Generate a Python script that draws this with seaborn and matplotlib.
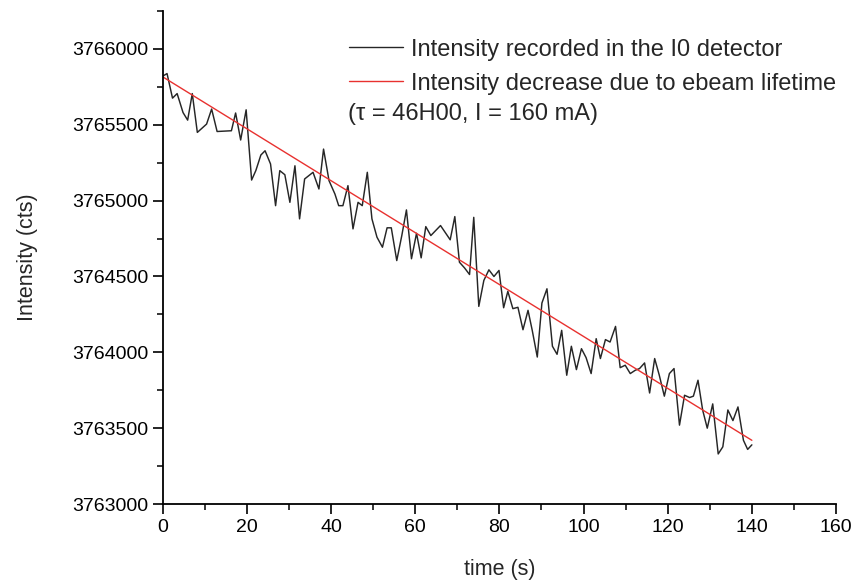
import numpy as np
import pandas as pd
import matplotlib
matplotlib.use("Agg")
import matplotlib.pyplot as plt
from matplotlib.ticker import MultipleLocator
import seaborn as sns

# Measured I0 intensity (time in s, counts)
time_s = [0.1, 1.0, 2.3, 3.4, 4.8, 5.9, 7.0, 8.2, 10.4, 11.6, 12.9, 16.3, 17.3, 18.5, 19.8,
          21.1, 22.1, 23.3, 24.3, 25.6, 26.8, 27.8, 29.0, 30.2, 31.4, 32.5, 33.7, 35.7, 37.1,
          38.2, 39.5, 40.9, 41.8, 42.8, 44.0, 45.2, 46.4, 47.4, 48.6, 49.7, 50.9, 52.2, 53.3,
          54.3, 55.6, 56.8, 57.9, 59.1, 60.3, 61.4, 62.5, 63.7, 66.0, 68.3, 69.4, 70.5, 71.7,
          72.9, 73.9, 75.1, 76.3, 77.5, 78.7, 79.9, 81.0, 82.0, 83.2, 84.4, 85.6, 86.8, 87.8,
          89.0, 90.1, 91.3, 92.6, 93.7, 94.8, 96.0, 97.1, 98.3, 99.5, 100.6, 101.8, 103.0,
          104.0, 105.2, 106.3, 107.6, 108.7, 109.9, 111.1, 112.3, 113.3, 114.5, 115.7, 116.9,
          118.0, 119.2, 120.4, 121.5, 122.8, 124.0, 125.2, 126.1, 127.2, 128.3, 129.4, 130.7,
          132.0, 133.1, 134.3, 135.5, 136.7, 138.0, 139.0, 140.0]
intensity = [3765823, 3765838, 3765676, 3765706, 3765581, 3765531, 3765706, 3765450, 3765505,
             3765604, 3765456, 3765461, 3765578, 3765400, 3765599, 3765136, 3765198, 3765301,
             3765329, 3765242, 3764967, 3765198, 3765171, 3764989, 3765230, 3764880, 3765143,
             3765187, 3765077, 3765340, 3765132, 3765044, 3764967, 3764967, 3765099, 3764814,
             3764989, 3764967, 3765187, 3764880, 3764759, 3764693, 3764821, 3764821, 3764605,
             3764770, 3764939, 3764617, 3764785, 3764623, 3764829, 3764770, 3764836, 3764742,
             3764895, 3764594, 3764557, 3764513, 3764890, 3764303, 3764474, 3764544, 3764500,
             3764540, 3764294, 3764402, 3764288, 3764297, 3764149, 3764277, 3764145, 3763969,
             3764325, 3764419, 3764040, 3763987, 3764145, 3763849, 3764040, 3763886, 3764024,
             3763965, 3763860, 3764090, 3763959, 3764084, 3764068, 3764171, 3763899, 3763915,
             3763860, 3763882, 3763893, 3763930, 3763732, 3763959, 3763849, 3763711, 3763860,
             3763893, 3763520, 3763717, 3763702, 3763711, 3763816, 3763620, 3763500, 3763660,
             3763330, 3763377, 3763620, 3763550, 3763640, 3763420, 3763360, 3763390]

# Lifetime decay line (endpoints)
fit_time = [0, 140]
fit_intensity = [3765816, 3763420]

x_ticks = [0, 20, 40, 60, 80, 100, 120, 140, 160]
y_ticks = [3763000, 3763500, 3764000, 3764500, 3765000, 3765500, 3766000]

sns.set_style("ticks")
plt.rcParams['font.family'] = ['Liberation Sans', 'DejaVu Sans']

fig = plt.figure(figsize=(8.57, 5.83), dpi=100)
ax = fig.add_axes([0.190, 0.1355, 0.7855, 0.8455])

df = pd.DataFrame({"t": time_s, "I": intensity})
fit = pd.DataFrame({"t": fit_time, "I": fit_intensity})

sns.lineplot(data=df, x="t", y="I", ax=ax, color="#262626", linewidth=1.05,
             label="Intensity recorded in the I0 detector")
sns.lineplot(data=fit, x="t", y="I", ax=ax, color="#e8312f", linewidth=1.0,
             label="Intensity decrease due to ebeam lifetime")

ax.set_xlim(0, 160)
ax.set_ylim(3763000, 3766250)
ax.set_xticks(x_ticks)
ax.set_yticks(y_ticks)
ax.set_xticklabels([str(v) for v in x_ticks])
ax.set_yticklabels([str(v) for v in y_ticks])
ax.xaxis.set_minor_locator(MultipleLocator(10))
ax.yaxis.set_minor_locator(MultipleLocator(250))

for s in ["top", "right"]:
    ax.spines[s].set_visible(False)
for s in ["left", "bottom"]:
    ax.spines[s].set_color("black")
    ax.spines[s].set_linewidth(1.3)

ax.tick_params(axis="both", which="major", direction="out", length=7.5, width=1.2,
               colors="black", labelsize=14, pad=3.2)
ax.tick_params(axis="both", which="minor", direction="out", length=4, width=1.1, colors="black")

ax.set_xlabel("time (s)", fontsize=15.5, labelpad=17)
ax.set_ylabel("Intensity (cts)", fontsize=15.5, labelpad=24)

leg = ax.legend(loc="upper left", bbox_to_anchor=(0.2624, 0.963), frameon=False,
                fontsize=17, handlelength=2.3, handletextpad=0.35, labelspacing=0.5,
                borderaxespad=0)
for line in leg.get_lines():
    line.set_linewidth(1.0)

ax.text(0.275, 0.792, "(\u03c4 = 46H00, I = 160 mA)", transform=ax.transAxes,
        fontsize=17, ha="left", va="center")

fig.savefig("out.png", dpi=100)
